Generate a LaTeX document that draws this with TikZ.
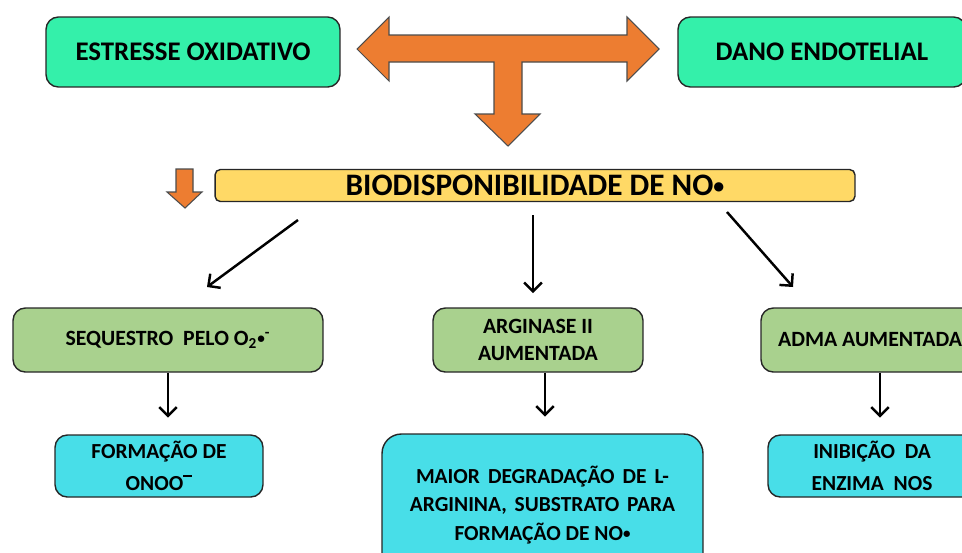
\documentclass[tikz,border=0pt]{standalone}
\usepackage{fontspec}
\setmainfont{Carlito}
\usetikzlibrary{arrows.meta}
\usetikzlibrary{positioning}
\definecolor{mteal}{RGB}{52, 240, 170}
\definecolor{mgreen}{RGB}{169, 209, 142}
\definecolor{mcyan}{RGB}{72, 222, 232}
\definecolor{myellow}{RGB}{255, 217, 102}
\definecolor{morange}{RGB}{237, 125, 49}
\newcommand{\nodot}{\raisebox{0.08em}{\scalebox{0.7}{•}}}
\tikzset{topbox/.style = {draw=black!85, line width=0.8pt, fill=mteal, rounded corners=7pt,
                          inner sep=0, minimum height=1.4cm,
                          font=\bfseries\fontsize{15.3}{17}\selectfont}}
\tikzset{midbox/.style = {draw=black!85, line width=0.8pt, fill=mgreen, rounded corners=7pt,
                          inner sep=0, minimum height=1.28cm, align=center,
                          font=\bfseries\fontsize{12.4}{15}\selectfont}}
\tikzset{lowbox/.style = {draw=black!85, line width=0.8pt, fill=mcyan, rounded corners=7pt,
                          inner sep=0, minimum height=1.24cm, minimum width=4.16cm, align=center,
                          font=\bfseries\fontsize{12.2}{18}\selectfont}}
\tikzset{conn/.style = {line width=1.4pt, -{Straight Barb[length=5pt, width=10pt]}}}
\tikzset{fatarrow/.style = {fill=morange, draw=black!70, line width=0.6pt, line join=miter}}

\begin{document}
\begin{tikzpicture}[x=0.02cm, y=-0.02cm]
      \useasboundingbox (0, 0) rectangle (962, 552);
      \clip (0, 0) rectangle (962, 552);

      \node [topbox, minimum width=5.88cm] (estresse) at (193, 52) {ESTRESSE OXIDATIVO};
      \node [topbox, minimum width=5.76cm] (dano) at (822, 52) {DANO ENDOTELIAL};

      \draw [fatarrow] (357, 49) -- (389, 17) -- (389, 35) -- (627, 35) -- (627, 17) -- (659, 49)
                       -- (627, 81) -- (627, 62) -- (522, 62) -- (522, 114) -- (540, 114) -- (508, 146)
                       -- (475, 114) -- (494, 114) -- (494, 62) -- (389, 62) -- (389, 81) -- cycle;

      \node [draw=black!85, line width=0.8pt, fill=myellow, rounded corners=3pt, inner sep=0,
             minimum width=12.8cm, minimum height=0.64cm, font=\bfseries\fontsize{17.8}{20}\selectfont]
            (nobar) at (535, 185.5) {BIODISPONIBILIDADE DE NO\nodot};
      \draw [fatarrow] (176, 169) -- (193, 169) -- (193, 192) -- (202, 192) -- (185, 208)
                       -- (167, 192) -- (176, 192) -- cycle;

      \node [midbox, minimum width=6.2cm] (sequestro) at (168, 340)
            {SEQUESTRO\ \ PELO O\textsubscript{2}\nodot\textsuperscript{-}};
      \node [midbox, minimum width=4.2cm] (arginase) at (538, 340) {ARGINASE II\\AUMENTADA};
      \node [midbox, minimum width=4.36cm] (adma) at (870, 340) {ADMA AUMENTADA};

      \node [lowbox] (formacao) at (159, 466)
            {FORMAÇÃO DE\\ONOO\raisebox{0.62em}{\rule{0.42em}{0.09em}}};
      \node [lowbox, minimum width=6.42cm, minimum height=2.84cm, rounded corners=11pt,
             font=\bfseries\fontsize{12.2}{16}\selectfont] (maior) at (542.5, 505)
            {\makebox[144pt][s]{MAIOR DEGRADAÇÃO DE L-}\\
             \makebox[151pt][s]{ARGININA, SUBSTRATO PARA}\\
             FORMAÇÃO DE NO\nodot};
      \node [lowbox] (inibicao) at (872, 466) {INIBIÇÃO\ \ DA\\ENZIMA\ \ NOS};

      \coordinate (l1) at (298, 220);
      \coordinate (l2) at (207, 287);
      \coordinate (m1) at (533, 215);
      \coordinate (m2) at (533, 293);
      \coordinate (r1) at (727, 212);
      \coordinate (r2) at (793, 287);
      \draw [conn] (l1) -- (l2);
      \draw [conn] (m1) -- (m2);
      \draw [conn] (r1) -- (r2);

      \draw [conn, shorten >=9.5pt] (sequestro.south) -- (sequestro.south |- formacao.north);
      \draw [conn, shorten >=9.5pt] ([xshift=0.14cm] arginase.south) -- ([xshift=0.14cm] arginase.south |- maior.north);
      \draw [conn, shorten >=9.5pt] ([xshift=0.2cm] adma.south) -- ([xshift=0.2cm] adma.south |- inibicao.north);
    \end{tikzpicture}
\end{document}
